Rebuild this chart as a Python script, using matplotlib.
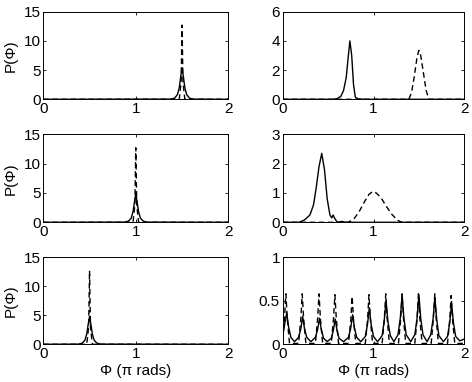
import matplotlib
matplotlib.use("Agg")
import matplotlib.pyplot as plt

plt.rcParams["font.family"] = ["Liberation Sans", "DejaVu Sans"]
plt.rcParams["font.size"] = 11

# ---- data (phase in units of pi) ----
# left column: narrow peaks, solid and dashed
L1_SOLID_X = [0.0, 1.38, 1.42, 1.45, 1.47, 1.485, 1.5, 1.515, 1.53, 1.55, 1.58, 1.62, 2.0]
L1_SOLID_Y = [0.0, 0.03, 0.2, 0.8, 2.0, 3.8, 5.4, 3.8, 2.0, 0.8, 0.2, 0.03, 0.0]
L1_DASH_X = [0.0, 1.47, 1.49, 1.5, 1.51, 1.53, 2.0]
L1_DASH_Y = [0.0, 0.0, 3.0, 12.7, 3.0, 0.0, 0.0]

L2_SOLID_X = [0.0, 0.88, 0.92, 0.95, 0.97, 0.985, 1.0, 1.015, 1.03, 1.05, 1.08, 1.12, 2.0]
L2_SOLID_Y = [0.0, 0.03, 0.2, 0.7, 1.8, 3.4, 4.9, 3.4, 1.8, 0.7, 0.2, 0.03, 0.0]
L2_DASH_X = [0.0, 0.97, 0.99, 1.0, 1.01, 1.03, 2.0]
L2_DASH_Y = [0.0, 0.0, 3.0, 12.7, 3.0, 0.0, 0.0]

L3_SOLID_X = [0.0, 0.38, 0.42, 0.45, 0.47, 0.485, 0.5, 0.515, 0.53, 0.55, 0.58, 0.62, 2.0]
L3_SOLID_Y = [0.0, 0.03, 0.2, 0.7, 1.8, 3.4, 4.8, 3.4, 1.8, 0.7, 0.2, 0.03, 0.0]
L3_DASH_X = [0.0, 0.47, 0.49, 0.5, 0.51, 0.53, 2.0]
L3_DASH_Y = [0.0, 0.0, 3.0, 12.7, 3.0, 0.0, 0.0]

# right column, top
R1_SOLID_X = [0.0, 0.55, 0.6, 0.64, 0.67, 0.7, 0.72, 0.74, 0.76, 0.78, 0.8, 0.83, 0.9, 2.0]
R1_SOLID_Y = [0.0, 0.0, 0.05, 0.2, 0.6, 1.5, 2.8, 4.0, 3.0, 1.0, 0.15, 0.03, 0.0, 0.0]
R1_DASH_X = [0.0, 1.39, 1.42, 1.45, 1.48, 1.5, 1.52, 1.55, 1.58, 1.61, 2.0]
R1_DASH_Y = [0.0, 0.0, 0.5, 1.6, 2.9, 3.35, 3.0, 1.8, 0.6, 0.0, 0.0]

# right column, middle
R2_SOLID_X = [0.0, 0.18, 0.24, 0.3, 0.34, 0.37, 0.4, 0.43, 0.46, 0.49, 0.52, 0.54, 0.555,
              0.57, 0.6, 0.65, 0.7, 2.0]
R2_SOLID_Y = [0.0, 0.0, 0.08, 0.25, 0.6, 1.2, 1.9, 2.35, 1.8, 0.8, 0.25, 0.15, 0.25,
              0.15, 0.0, 0.03, 0.0, 0.0]
R2_DASH_X = [0.0, 0.72, 0.78, 0.84, 0.9, 0.95, 0.99, 1.03, 1.08, 1.14, 1.2, 1.26, 1.31, 2.0]
R2_DASH_Y = [0.0, 0.0, 0.1, 0.35, 0.7, 0.95, 1.05, 1.0, 0.85, 0.55, 0.28, 0.08, 0.0, 0.0]

# right column, bottom: periodic peaks
R3_SOLID_X = [0.00, 0.02, 0.044, 0.065, 0.09, 0.13,
              0.175, 0.20, 0.22, 0.24, 0.265, 0.31,
              0.36, 0.385, 0.405, 0.425, 0.45, 0.49,
              0.535, 0.558, 0.578, 0.598, 0.62, 0.67,
              0.725, 0.75, 0.77, 0.79, 0.815, 0.86,
              0.91, 0.934, 0.954, 0.974, 1.0, 1.045,
              1.095, 1.118, 1.138, 1.158, 1.185, 1.225,
              1.27, 1.295, 1.315, 1.335, 1.36, 1.41,
              1.455, 1.48, 1.50, 1.52, 1.545, 1.59,
              1.63, 1.656, 1.676, 1.696, 1.72, 1.77,
              1.815, 1.84, 1.86, 1.88, 1.905, 1.95, 2.0]
R3_SOLID_Y = [0.10, 0.22, 0.36, 0.20, 0.08, 0.03,
              0.08, 0.18, 0.32, 0.18, 0.08, 0.03,
              0.08, 0.17, 0.30, 0.17, 0.07, 0.03,
              0.07, 0.16, 0.29, 0.16, 0.07, 0.03,
              0.08, 0.19, 0.34, 0.19, 0.08, 0.03,
              0.09, 0.23, 0.42, 0.23, 0.09, 0.03,
              0.10, 0.27, 0.50, 0.27, 0.10, 0.03,
              0.11, 0.30, 0.56, 0.30, 0.11, 0.03,
              0.11, 0.30, 0.57, 0.30, 0.11, 0.03,
              0.11, 0.29, 0.54, 0.29, 0.10, 0.03,
              0.09, 0.25, 0.47, 0.25, 0.09, 0.04, 0.06]
R3_DASH_X = [0.0, 0.02, 0.035, 0.05, 0.075,
             0.175, 0.20, 0.215, 0.23, 0.255,
             0.36, 0.385, 0.40, 0.415, 0.44,
             0.535, 0.56, 0.575, 0.59, 0.615,
             0.725, 0.75, 0.765, 0.78, 0.805,
             0.91, 0.935, 0.95, 0.965, 0.99,
             1.095, 1.12, 1.135, 1.15, 1.175,
             1.275, 1.30, 1.315, 1.33, 1.355,
             1.455, 1.48, 1.495, 1.51, 1.535,
             1.635, 1.66, 1.675, 1.69, 1.715,
             1.815, 1.84, 1.855, 1.87, 1.895, 2.0]
R3_DASH_Y = [0.05, 0.30, 0.58, 0.30, 0.01,
             0.01, 0.30, 0.58, 0.30, 0.01,
             0.01, 0.30, 0.58, 0.30, 0.01,
             0.01, 0.30, 0.57, 0.30, 0.01,
             0.01, 0.28, 0.55, 0.28, 0.01,
             0.01, 0.29, 0.57, 0.29, 0.01,
             0.01, 0.30, 0.58, 0.30, 0.01,
             0.01, 0.30, 0.58, 0.30, 0.01,
             0.01, 0.30, 0.58, 0.30, 0.01,
             0.01, 0.30, 0.58, 0.30, 0.01,
             0.01, 0.29, 0.56, 0.29, 0.01, 0.01]

LEFT_YTICKS = [0, 5, 10, 15]
R_YTICKS = [[0, 2, 4, 6], [0, 1, 2, 3], [0, 0.5, 1]]
R_YLABELS = [["0", "2", "4", "6"], ["0", "1", "2", "3"], ["0", "0.5", "1"]]
XTICKS = [0, 1, 2]

W, H = 472, 382
# axes boxes in pixels: (left, top, right, bottom)
LEFT_BOX = (43.3, 228.3)
RIGHT_BOX = (282.7, 464.3)
ROWS = [(11.7, 99.3), (134.3, 222.3), (257.3, 344.3)]


def _style(ax):
    ax.set_xlim(0, 2)
    ax.set_xticks(XTICKS)
    ax.set_xticklabels([str(t) for t in XTICKS])
    ax.tick_params(direction="in", length=2.5, width=0.6, top=True, right=True,
                   labelsize=11, pad=2)
    for sp in ax.spines.values():
        sp.set_linewidth(0.7)


fig = plt.figure(figsize=(W / 100, H / 100), dpi=100)
left_data = [(L1_SOLID_X, L1_SOLID_Y, L1_DASH_X, L1_DASH_Y),
             (L2_SOLID_X, L2_SOLID_Y, L2_DASH_X, L2_DASH_Y),
             (L3_SOLID_X, L3_SOLID_Y, L3_DASH_X, L3_DASH_Y)]
right_data = [(R1_SOLID_X, R1_SOLID_Y, R1_DASH_X, R1_DASH_Y),
              (R2_SOLID_X, R2_SOLID_Y, R2_DASH_X, R2_DASH_Y),
              (R3_SOLID_X, R3_SOLID_Y, R3_DASH_X, R3_DASH_Y)]

for i, (top, bot) in enumerate(ROWS):
    for col, (x0, x1) in enumerate([LEFT_BOX, RIGHT_BOX]):
        ax = fig.add_axes([x0 / W, 1 - bot / H, (x1 - x0) / W, (bot - top) / H])
        sx, sy, dx, dy = (left_data if col == 0 else right_data)[i]
        ax.plot(sx, sy, color="black", linewidth=1.0)
        ax.plot(dx, dy, color="black", linewidth=1.0, linestyle=(0, (4, 2.5)))
        _style(ax)
        if col == 0:
            ax.set_ylim(0, 15)
            ax.set_yticks(LEFT_YTICKS)
            ax.set_yticklabels([str(t) for t in LEFT_YTICKS])
            ax.set_ylabel("P(Φ)", fontsize=11, labelpad=4)
        else:
            ax.set_ylim(0, R_YTICKS[i][-1])
            ax.set_yticks(R_YTICKS[i])
            ax.set_yticklabels(R_YLABELS[i])
        if i == 2:
            ax.set_xlabel("Φ (π rads)", fontsize=11, labelpad=2)

fig.savefig("out.png", dpi=100)
